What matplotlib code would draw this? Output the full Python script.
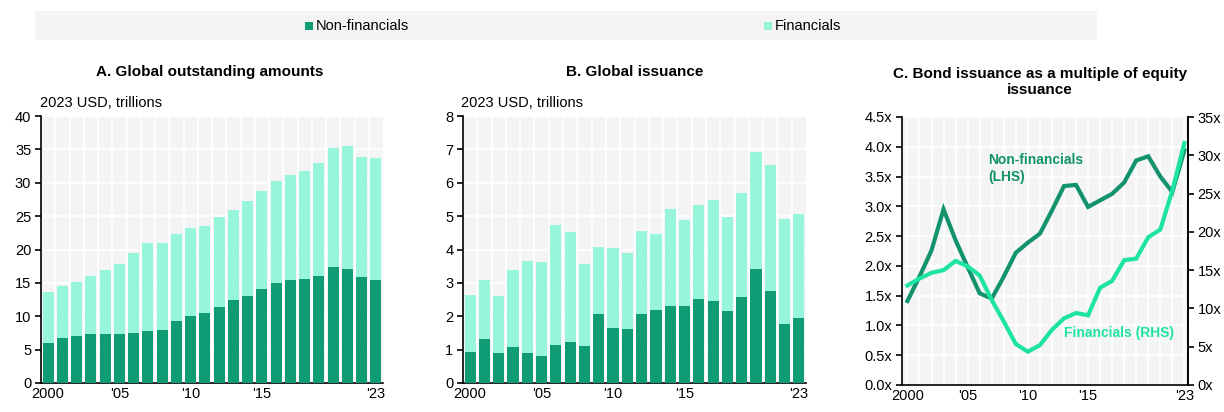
import numpy as np
import matplotlib
matplotlib.use("Agg")
import matplotlib.pyplot as plt
from matplotlib.patches import Rectangle

plt.rcParams['font.family'] = ['Liberation Sans', 'DejaVu Sans']

years = list(range(2000, 2024))
xticks_pos = [0, 5, 10, 15, 23]
xtick_labels = ['2000', "'05", "'10", "'15", "'23"]

# A. outstanding amounts (2023 USD trillions)
out_total = [13.6, 14.6, 15.1, 16.0, 17.0, 17.9, 19.55, 21.0, 21.0, 22.35, 23.25, 23.55,
             24.85, 25.85, 27.3, 28.8, 30.3, 31.2, 31.8, 33.0, 35.25, 35.5, 33.8, 33.7]
out_nonfin = [6.05, 6.7, 7.0, 7.3, 7.35, 7.3, 7.45, 7.75, 7.9, 9.25, 10.0, 10.5,
              11.4, 12.4, 13.1, 14.05, 14.95, 15.4, 15.55, 16.05, 17.35, 17.1, 15.9, 15.5]
out_fin = [t - n for t, n in zip(out_total, out_nonfin)]

# B. issuance
iss_total = [2.64, 3.09, 2.61, 3.39, 3.65, 3.64, 4.73, 4.52, 3.56, 4.08, 4.05, 3.90,
             4.55, 4.47, 5.22, 4.87, 5.34, 5.49, 4.98, 5.69, 6.92, 6.53, 4.90, 5.07]
iss_nonfin = [0.94, 1.33, 0.91, 1.08, 0.90, 0.82, 1.13, 1.22, 1.12, 2.07, 1.64, 1.63,
              2.08, 2.19, 2.31, 2.31, 2.51, 2.46, 2.17, 2.57, 3.41, 2.76, 1.78, 1.96]
iss_fin = [t - n for t, n in zip(iss_total, iss_nonfin)]

# C. bond issuance / equity issuance
mult_nonfin = [1.41, 1.82, 2.26, 2.95, 2.43, 1.98, 1.54, 1.45, 1.82, 2.22, 2.39, 2.54,
               2.93, 3.34, 3.36, 2.99, 3.10, 3.21, 3.40, 3.77, 3.84, 3.50, 3.24, 3.94]
mult_fin = [13.0, 13.9, 14.65, 15.0, 16.2, 15.5, 14.3, 11.1, 8.3, 5.35, 4.35, 5.2,
            7.2, 8.7, 9.4, 9.1, 12.7, 13.6, 16.3, 16.5, 19.3, 20.3, 25.4, 31.6]

c_dark = '#0f9b74'
c_light = '#96f5da'
c_line_dark = '#12936d'
c_line_light = '#1de3a3'
bg = '#f4f4f4'

fs_tick = 10.5
fs_title = 11
fs_legend = 10.5
fs_note = 10

fig = plt.figure(figsize=(12.24, 4.12), dpi=100)
W, H = 1224, 412

def px(l, t, r, b):
    return [l / W, 1 - b / H, (r - l) / W, (b - t) / H]

def style(ax):
    ax.set_facecolor(bg)
    for s in ['top', 'right']:
        ax.spines[s].set_visible(False)
    ax.spines['left'].set_linewidth(1.2)
    ax.spines['bottom'].set_linewidth(1.2)
    ax.tick_params(axis='y', length=4, width=1.2, labelsize=fs_tick, pad=3)
    ax.tick_params(axis='x', length=0, labelsize=fs_tick, pad=3)
    ax.set_xticks(xticks_pos)
    ax.set_xticklabels(xtick_labels)

x = np.arange(len(years))

# legend bar
fig.patches.append(Rectangle((35 / W, 1 - 40 / H), (1097 - 35) / W, 29 / H,
                             transform=fig.transFigure, facecolor=bg, edgecolor='none'))
fig.patches.append(Rectangle((305 / W, 1 - 30 / H), 8 / W, 8 / H,
                             transform=fig.transFigure, facecolor=c_dark, edgecolor='none'))
fig.text(316 / W, 1 - 25.5 / H, 'Non-financials', fontsize=fs_legend, va='center', ha='left')
fig.patches.append(Rectangle((764 / W, 1 - 30 / H), 8 / W, 8 / H,
                             transform=fig.transFigure, facecolor=c_light, edgecolor='none'))
fig.text(775 / W, 1 - 25.5 / H, 'Financials', fontsize=fs_legend, va='center', ha='left')

# panel A
axA = fig.add_axes(px(41, 116, 383, 383))
style(axA)
axA.bar(x, out_nonfin, width=0.78, color=c_dark, zorder=3)
axA.bar(x, out_fin, bottom=out_nonfin, width=0.78, color=c_light, zorder=3)
axA.set_xlim(-0.5, 23.5)
axA.set_ylim(0, 40)
axA.set_yticks(range(0, 41, 5))
axA.grid(axis='y', color='white', lw=1.2, zorder=1)
for v in x[:-1]:
    axA.axvline(v + 0.5, color='white', lw=1.2, zorder=1)
fig.text(210 / W, 1 - 72 / H, 'A. Global outstanding amounts', fontsize=fs_title,
         fontweight='bold', ha='center', va='center')
fig.text(40 / W, 1 - 103 / H, '2023 USD, trillions', fontsize=fs_tick, ha='left', va='center')

# panel B
axB = fig.add_axes(px(463, 116, 806, 383))
style(axB)
axB.bar(x, iss_nonfin, width=0.78, color=c_dark, zorder=3)
axB.bar(x, iss_fin, bottom=iss_nonfin, width=0.78, color=c_light, zorder=3)
axB.set_xlim(-0.5, 23.5)
axB.set_ylim(0, 8)
axB.set_yticks(range(0, 9))
axB.grid(axis='y', color='white', lw=1.2, zorder=1)
for v in x[:-1]:
    axB.axvline(v + 0.5, color='white', lw=1.2, zorder=1)
fig.text(635 / W, 1 - 72 / H, 'B. Global issuance', fontsize=fs_title,
         fontweight='bold', ha='center', va='center')
fig.text(461 / W, 1 - 103 / H, '2023 USD, trillions', fontsize=fs_tick, ha='left', va='center')

# panel C
axC = fig.add_axes(px(902, 117, 1188, 385))
style(axC)
axC.spines['right'].set_visible(True)
axC.spines['right'].set_linewidth(1.2)
axC.set_xlim(-0.45, 23.3)
axC.set_ylim(0, 4.5)
axC.set_yticks(np.arange(0, 4.51, 0.5))
axC.set_yticklabels(['{:.1f}x'.format(v) for v in np.arange(0, 4.51, 0.5)])
axC.grid(axis='y', color='white', lw=1.2, zorder=1)
for v in x:
    axC.axvline(v, color='white', lw=1.2, zorder=1)
axC2 = axC.twinx()
axC2.set_ylim(0, 35)
axC2.set_yticks(range(0, 36, 5))
axC2.set_yticklabels(['{}x'.format(v) for v in range(0, 36, 5)])
axC2.tick_params(axis='y', length=4, width=1.2, labelsize=fs_tick, pad=3)
for s in ['top', 'left', 'bottom']:
    axC2.spines[s].set_visible(False)
axC2.spines['right'].set_linewidth(1.2)
axC.plot(x, mult_nonfin, color=c_line_dark, lw=3, zorder=4, solid_joinstyle='miter')
axC2.plot(x, mult_fin, color=c_line_light, lw=3, zorder=4, solid_joinstyle='miter')
axC.text(6.7, 3.63, 'Non-financials\n(LHS)', color=c_line_dark, fontsize=fs_note,
         fontweight='bold', ha='left', va='center', linespacing=1.3)
axC.text(13.0, 0.87, 'Financials (RHS)', color=c_line_light, fontsize=fs_note,
         fontweight='bold', ha='left', va='center')
fig.text(1040 / W, 1 - 82 / H, 'C. Bond issuance as a multiple of equity\nissuance',
         fontsize=fs_title, fontweight='bold', ha='center', va='center', linespacing=1.25)

fig.savefig('out.png', dpi=100, facecolor='white')
